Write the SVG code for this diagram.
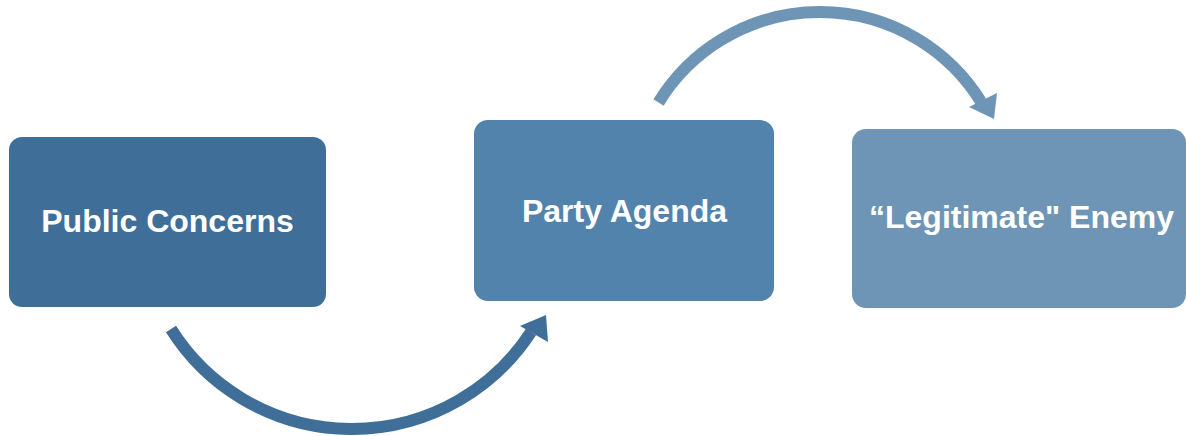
<svg xmlns="http://www.w3.org/2000/svg" width="1186" height="436" viewBox="0 0 1186 436">
<style>
.lbl{font-family:"Liberation Sans",Arial,sans-serif;font-weight:bold;font-size:32px;fill:#ffffff;text-anchor:middle}
.arc{fill:none;stroke-width:12;stroke-linecap:butt}
</style>
<rect width="1186" height="436" fill="#ffffff"/>
<g id="connectors">
<path class="arc" stroke="#3f6f98" d="M 171 329 A 213.8 213.8 0 0 0 531 332"/>
<polygon fill="#3f6f98" points="546,315 520,326 548,342"/>
<path class="arc" stroke="#6f95b6" d="M 658.5 102.5 A 189.35 189.35 0 0 1 980.9 101.6"/>
<polygon fill="#6f95b6" points="994,119 969,107 997,93"/>
</g>
<g id="public-concerns">
<rect x="9" y="137" width="317" height="170" rx="13" fill="#3f6f98"/>
<text class="lbl" x="167.5" y="232">Public Concerns</text>
</g>
<g id="party-agenda">
<rect x="474" y="120" width="300" height="181" rx="14" fill="#5283ad"/>
<text class="lbl" x="624.5" y="222">Party Agenda</text>
</g>
<g id="legitimate-enemy">
<rect x="852" y="129" width="334" height="179" rx="14" fill="#6f95b6"/>
<text class="lbl" x="1021.5" y="228">“Legitimate" Enemy</text>
</g>
</svg>
